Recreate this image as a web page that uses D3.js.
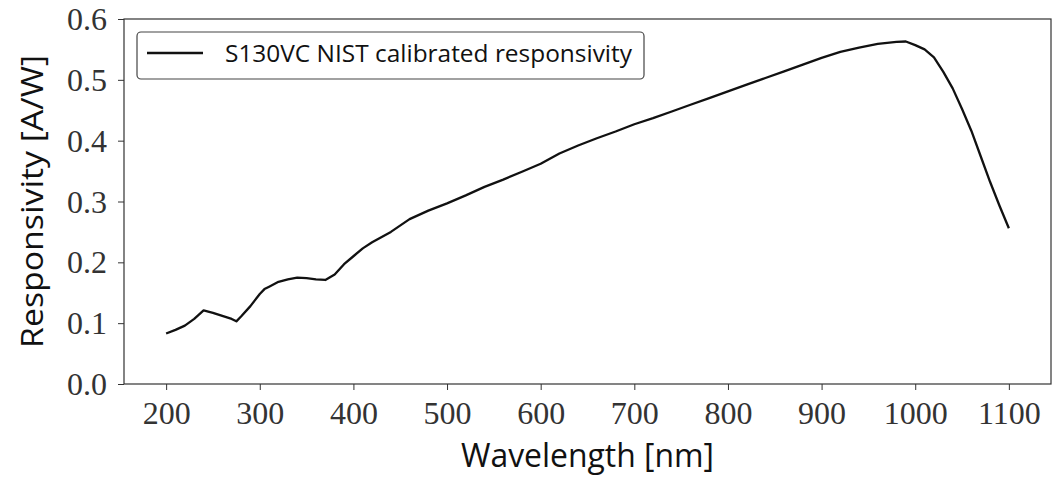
<!DOCTYPE html>
<html>
<head>
<meta charset="utf-8">
<script src="https://cdn.jsdelivr.net/npm/d3@7"></script>
<style>
  html, body { margin: 0; padding: 0; background: #fff; }
  svg { display: block; }
</style>
</head>
<body>
<svg id="chart" width="1054" height="478"></svg>
<script>
// ---- data ----
const wavelength = [200, 210, 220, 230, 240, 250, 260, 270, 275, 280, 290, 300, 305, 310, 320, 330, 340, 350, 360, 370, 380, 390, 400, 410, 420, 440, 460, 480, 500, 520, 540, 560, 580, 600, 620, 640, 660, 680, 700, 720, 740, 760, 780, 800, 820, 840, 860, 880, 900, 920, 940, 960, 980, 990, 1000, 1010, 1020, 1030, 1040, 1050, 1060, 1070, 1080, 1090, 1100];
const responsivity = [0.083, 0.089, 0.096, 0.107, 0.121, 0.117, 0.112, 0.107, 0.103, 0.111, 0.128, 0.148, 0.156, 0.160, 0.168, 0.172, 0.175, 0.174, 0.172, 0.171, 0.180, 0.197, 0.210, 0.223, 0.233, 0.250, 0.271, 0.285, 0.297, 0.310, 0.324, 0.336, 0.349, 0.362, 0.379, 0.392, 0.404, 0.415, 0.427, 0.437, 0.448, 0.459, 0.470, 0.481, 0.492, 0.503, 0.514, 0.525, 0.536, 0.546, 0.553, 0.559, 0.5625, 0.563, 0.557, 0.550, 0.537, 0.513, 0.486, 0.452, 0.416, 0.374, 0.332, 0.293, 0.256];
const xTicks = [200, 300, 400, 500, 600, 700, 800, 900, 1000, 1100];
const yTicks = [0.0, 0.1, 0.2, 0.3, 0.4, 0.5, 0.6];
const xDomain = [155, 1145];
const yDomain = [0, 0.6];
const seriesName = "S130VC NIST calibrated responsivity";
const xLabel = "Wavelength [nm]";
const yLabel = "Responsivity [A/W]";

// ---- layout ----
const mLeft = 124, mRight = 1051, mTop = 19, mBottom = 384;
const svg = d3.select("#chart");
const x = d3.scaleLinear().domain(xDomain).range([mLeft, mRight]);
const y = d3.scaleLinear().domain(yDomain).range([mBottom, mTop]);

const spineColor = "#333";
const serif = "'Liberation Serif', 'Times New Roman', serif";
const sans = "'Open Sans', 'DejaVu Sans', sans-serif";

// line
const line = d3.line().x((d, i) => x(wavelength[i])).y(d => y(d));
svg.append("path")
  .datum(responsivity)
  .attr("d", line)
  .attr("fill", "none")
  .attr("stroke", "#111")
  .attr("stroke-width", 2.3)
  .attr("stroke-linejoin", "round");

// axes
const xAxis = svg.append("g")
  .attr("transform", `translate(0,${mBottom})`)
  .call(d3.axisBottom(x).tickValues(xTicks).tickSize(6).tickSizeOuter(0).tickFormat(d3.format("d")));
xAxis.select(".domain").remove();
xAxis.selectAll(".tick line").attr("stroke", spineColor).attr("stroke-width", 1);
xAxis.selectAll(".tick text")
  .attr("y", 40).attr("dy", 0)
  .attr("font-family", serif).attr("font-size", 32).attr("fill", "#333");

const yAxis = svg.append("g")
  .attr("transform", `translate(${mLeft},0)`)
  .call(d3.axisLeft(y).tickValues(yTicks).tickSize(6).tickSizeOuter(0).tickFormat(d3.format(".1f")));
yAxis.select(".domain").remove();
yAxis.selectAll(".tick line").attr("stroke", spineColor).attr("stroke-width", 1);
yAxis.selectAll(".tick text")
  .attr("x", -17).attr("dy", "0.33em")
  .attr("font-family", serif).attr("font-size", 32).attr("fill", "#333");

// spines (frame)
svg.append("rect")
  .attr("x", mLeft).attr("y", mTop)
  .attr("width", mRight - mLeft).attr("height", mBottom - mTop)
  .attr("fill", "none").attr("stroke", spineColor).attr("stroke-width", 1.2);

// axis labels
svg.append("text")
  .attr("x", (mLeft + mRight) / 2).attr("y", 467)
  .attr("text-anchor", "middle")
  .attr("font-family", sans).attr("font-size", 32).attr("fill", "#111")
  .attr("textLength", 253).attr("lengthAdjust", "spacingAndGlyphs")
  .text(xLabel);

svg.append("text")
  .attr("transform", `translate(43,${(mTop + mBottom) / 2}) rotate(-90)`)
  .attr("text-anchor", "middle")
  .attr("font-family", sans).attr("font-size", 31).attr("fill", "#111")
  .attr("textLength", 293).attr("lengthAdjust", "spacingAndGlyphs")
  .text(yLabel);

// legend
const lg = svg.append("g");
lg.append("rect")
  .attr("x", 137).attr("y", 32).attr("width", 507).attr("height", 47).attr("rx", 4)
  .attr("fill", "#fff").attr("stroke", "#444").attr("stroke-width", 1.2);
lg.append("line")
  .attr("x1", 147).attr("x2", 203).attr("y1", 53).attr("y2", 53)
  .attr("stroke", "#111").attr("stroke-width", 2.3);
lg.append("text")
  .attr("x", 225).attr("y", 62)
  .attr("font-family", sans).attr("font-size", 24).attr("fill", "#111")
  .attr("textLength", 407).attr("lengthAdjust", "spacingAndGlyphs")
  .text(seriesName);
</script>
</body>
</html>
